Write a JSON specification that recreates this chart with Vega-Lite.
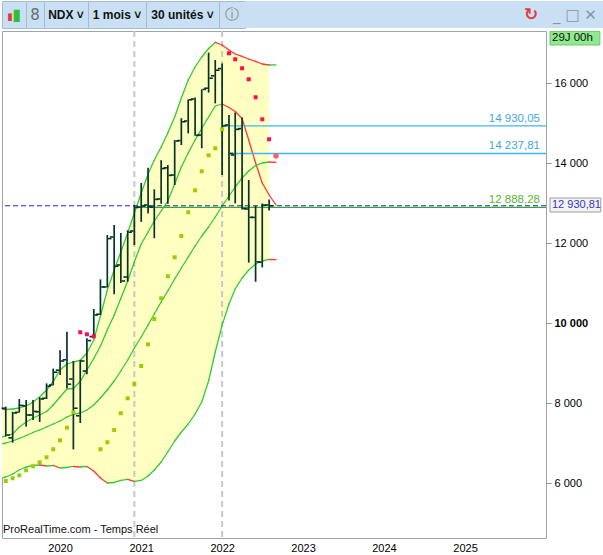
{
  "$schema": "https://vega.github.io/schema/vega-lite/v6.json",
  "description": "NDX monthly bars with bands, SAR dots and price levels, ProRealTime style",
  "padding": 0,
  "background": "white",
  "spacing": 0,
  "config": {
    "font": "Liberation Sans",
    "text": {"font": "Liberation Sans"},
    "axis": {"labelFont": "Liberation Sans"}
  },
  "datasets": {
    "bars": [
      {"date": "2019-05-01", "open": 7870, "high": 7910, "low": 7170, "close": 7200},
      {"date": "2019-06-01", "open": 7130, "high": 7780, "low": 7010, "close": 7750},
      {"date": "2019-07-01", "open": 7770, "high": 8100, "low": 7760, "close": 7940},
      {"date": "2019-08-01", "open": 7930, "high": 8075, "low": 7410, "close": 7700},
      {"date": "2019-09-01", "open": 7700, "high": 8075, "low": 7575, "close": 7790},
      {"date": "2019-10-01", "open": 7780, "high": 8140, "low": 7525, "close": 8100},
      {"date": "2019-11-01", "open": 8120, "high": 8490, "low": 8100, "close": 8420},
      {"date": "2019-12-01", "open": 8450, "high": 8860, "low": 8440, "close": 8770},
      {"date": "2020-01-01", "open": 8820, "high": 9320, "low": 8700, "close": 9050},
      {"date": "2020-02-01", "open": 9080, "high": 9780, "low": 8370, "close": 8470},
      {"date": "2020-03-01", "open": 8600, "high": 9050, "low": 6840, "close": 7870},
      {"date": "2020-04-01", "open": 7680, "high": 9080, "low": 7500, "close": 9050},
      {"date": "2020-05-01", "open": 8800, "high": 9620, "low": 8720, "close": 9560},
      {"date": "2020-06-01", "open": 9660, "high": 10350, "low": 9620, "close": 10200},
      {"date": "2020-07-01", "open": 10220, "high": 11090, "low": 10200, "close": 10900},
      {"date": "2020-08-01", "open": 10900, "high": 12200, "low": 10890, "close": 12110},
      {"date": "2020-09-01", "open": 12150, "high": 12450, "low": 10720, "close": 11420},
      {"date": "2020-10-01", "open": 11450, "high": 12250, "low": 11000, "close": 11050},
      {"date": "2020-11-01", "open": 11150, "high": 12320, "low": 11030, "close": 12270},
      {"date": "2020-12-01", "open": 12300, "high": 12950, "low": 11950, "close": 12888.28},
      {"date": "2021-01-01", "open": 12900, "high": 13500, "low": 12530, "close": 12925},
      {"date": "2021-02-01", "open": 12950, "high": 13880, "low": 12740, "close": 12910},
      {"date": "2021-03-01", "open": 12900, "high": 13340, "low": 12120, "close": 13090},
      {"date": "2021-04-01", "open": 13100, "high": 14070, "low": 12980, "close": 13860},
      {"date": "2021-05-01", "open": 13880, "high": 13950, "low": 12980, "close": 13690},
      {"date": "2021-06-01", "open": 13700, "high": 14570, "low": 13450, "close": 14550},
      {"date": "2021-07-01", "open": 14560, "high": 15120, "low": 14450, "close": 15030},
      {"date": "2021-08-01", "open": 15050, "high": 15590, "low": 14740, "close": 15580},
      {"date": "2021-09-01", "open": 15600, "high": 15640, "low": 14680, "close": 14690},
      {"date": "2021-10-01", "open": 14700, "high": 15840, "low": 14370, "close": 15840},
      {"date": "2021-11-01", "open": 15870, "high": 16760, "low": 15760, "close": 16120},
      {"date": "2021-12-01", "open": 16180, "high": 16575, "low": 15490, "close": 16320},
      {"date": "2022-01-01", "open": 16360, "high": 16490, "low": 13700, "close": 14930.05},
      {"date": "2022-02-01", "open": 14950, "high": 15200, "low": 13060, "close": 14237.81},
      {"date": "2022-03-01", "open": 14200, "high": 15260, "low": 12990, "close": 14840},
      {"date": "2022-04-01", "open": 14860, "high": 15140, "low": 12840, "close": 12860},
      {"date": "2022-05-01", "open": 12850, "high": 13575, "low": 11510, "close": 12642},
      {"date": "2022-06-01", "open": 12640, "high": 12925, "low": 11030, "close": 11530},
      {"date": "2022-07-01", "open": 11520, "high": 12990, "low": 11390, "close": 12948},
      {"date": "2022-08-01", "open": 12950, "high": 13090, "low": 12810, "close": 12930.81}
    ],
    "bands": [
      {"date": "2019-04-01", "up": 7850, "m2": 7138, "ma": 6963, "low": 6113},
      {"date": "2019-05-01", "up": 7838, "m2": 7175, "ma": 7000, "low": 6150},
      {"date": "2019-06-01", "up": 7850, "m2": 7225, "ma": 7050, "low": 6225},
      {"date": "2019-07-01", "up": 7875, "m2": 7400, "ma": 7113, "low": 6325},
      {"date": "2019-08-01", "up": 7925, "m2": 7525, "ma": 7188, "low": 6400},
      {"date": "2019-09-01", "up": 8025, "m2": 7625, "ma": 7263, "low": 6438},
      {"date": "2019-10-01", "up": 8150, "m2": 7700, "ma": 7325, "low": 6450},
      {"date": "2019-11-01", "up": 8325, "m2": 7788, "ma": 7400, "low": 6425},
      {"date": "2019-12-01", "up": 8538, "m2": 7950, "ma": 7475, "low": 6438},
      {"date": "2020-01-01", "up": 8825, "m2": 8150, "ma": 7550, "low": 6375},
      {"date": "2020-02-01", "up": 8975, "m2": 8350, "ma": 7650, "low": 6388},
      {"date": "2020-03-01", "up": 9025, "m2": 8363, "ma": 7713, "low": 6413},
      {"date": "2020-04-01", "up": 9063, "m2": 8538, "ma": 7750, "low": 6400},
      {"date": "2020-05-01", "up": 9250, "m2": 8825, "ma": 7825, "low": 6413},
      {"date": "2020-06-01", "up": 9575, "m2": 9113, "ma": 7950, "low": 6300},
      {"date": "2020-07-01", "up": 10175, "m2": 9425, "ma": 8125, "low": 6125},
      {"date": "2020-08-01", "up": 10825, "m2": 9825, "ma": 8325, "low": 6000},
      {"date": "2020-09-01", "up": 11325, "m2": 10200, "ma": 8550, "low": 6013},
      {"date": "2020-10-01", "up": 11775, "m2": 10613, "ma": 8800, "low": 6063},
      {"date": "2020-11-01", "up": 12250, "m2": 11050, "ma": 9075, "low": 6088},
      {"date": "2020-12-01", "up": 12750, "m2": 11525, "ma": 9375, "low": 6038},
      {"date": "2021-01-01", "up": 13250, "m2": 11975, "ma": 9650, "low": 6063},
      {"date": "2021-02-01", "up": 13725, "m2": 12275, "ma": 9950, "low": 6175},
      {"date": "2021-03-01", "up": 14075, "m2": 12550, "ma": 10225, "low": 6325},
      {"date": "2021-04-01", "up": 14400, "m2": 12800, "ma": 10525, "low": 6525},
      {"date": "2021-05-01", "up": 14750, "m2": 13050, "ma": 10800, "low": 6775},
      {"date": "2021-06-01", "up": 15150, "m2": 13475, "ma": 11100, "low": 7050},
      {"date": "2021-07-01", "up": 15625, "m2": 13900, "ma": 11375, "low": 7275},
      {"date": "2021-08-01", "up": 16075, "m2": 14250, "ma": 11650, "low": 7475},
      {"date": "2021-09-01", "up": 16400, "m2": 14575, "ma": 11925, "low": 7725},
      {"date": "2021-10-01", "up": 16650, "m2": 14863, "ma": 12175, "low": 8025},
      {"date": "2021-11-01", "up": 16863, "m2": 15150, "ma": 12400, "low": 8550},
      {"date": "2021-12-01", "up": 17013, "m2": 15425, "ma": 12650, "low": 9275},
      {"date": "2022-01-01", "up": 16950, "m2": 15475, "ma": 12925, "low": 9950},
      {"date": "2022-02-01", "up": 16825, "m2": 15388, "ma": 13175, "low": 10475},
      {"date": "2022-03-01", "up": 16725, "m2": 15288, "ma": 13400, "low": 10850},
      {"date": "2022-04-01", "up": 16663, "m2": 15113, "ma": 13625, "low": 11125},
      {"date": "2022-05-01", "up": 16600, "m2": 14575, "ma": 13800, "low": 11325},
      {"date": "2022-06-01", "up": 16538, "m2": 14000, "ma": 13938, "low": 11475},
      {"date": "2022-07-01", "up": 16475, "m2": 13500, "ma": 14000, "low": 11550},
      {"date": "2022-08-01", "up": 16450, "m2": 13200, "ma": 14025, "low": 11588},
      {"date": "2022-09-01", "up": 16455, "m2": 12950, "ma": 14018, "low": 11583, "proj": true}
    ],
    "sar": [
      {"date": "2019-05-01", "sar": 6050, "side": "below"},
      {"date": "2019-06-01", "sar": 6118, "side": "below"},
      {"date": "2019-07-01", "sar": 6193, "side": "below"},
      {"date": "2019-08-01", "sar": 6318, "side": "below"},
      {"date": "2019-09-01", "sar": 6418, "side": "below"},
      {"date": "2019-10-01", "sar": 6518, "side": "below"},
      {"date": "2019-11-01", "sar": 6643, "side": "below"},
      {"date": "2019-12-01", "sar": 6843, "side": "below"},
      {"date": "2020-01-01", "sar": 7068, "side": "below"},
      {"date": "2020-02-01", "sar": 7383, "side": "below"},
      {"date": "2020-03-01", "sar": 7768, "side": "below"},
      {"date": "2020-04-01", "sar": 9768, "side": "above"},
      {"date": "2020-05-01", "sar": 9718, "side": "above"},
      {"date": "2020-06-01", "sar": 9668, "side": "above"},
      {"date": "2020-07-01", "sar": 6843, "side": "below"},
      {"date": "2020-08-01", "sar": 7018, "side": "below"},
      {"date": "2020-09-01", "sar": 7325, "side": "below"},
      {"date": "2020-10-01", "sar": 7743, "side": "below"},
      {"date": "2020-11-01", "sar": 8118, "side": "below"},
      {"date": "2020-12-01", "sar": 8475, "side": "below"},
      {"date": "2021-01-01", "sar": 8925, "side": "below"},
      {"date": "2021-02-01", "sar": 9468, "side": "below"},
      {"date": "2021-03-01", "sar": 10100, "side": "below"},
      {"date": "2021-04-01", "sar": 10618, "side": "below"},
      {"date": "2021-05-01", "sar": 11168, "side": "below"},
      {"date": "2021-06-01", "sar": 11643, "side": "below"},
      {"date": "2021-07-01", "sar": 12175, "side": "below"},
      {"date": "2021-08-01", "sar": 12768, "side": "below"},
      {"date": "2021-09-01", "sar": 13318, "side": "below"},
      {"date": "2021-10-01", "sar": 13793, "side": "below"},
      {"date": "2021-11-01", "sar": 14193, "side": "below"},
      {"date": "2021-12-01", "sar": 14368, "side": "below"},
      {"date": "2022-01-01", "sar": 14843, "side": "below"},
      {"date": "2022-02-01", "sar": 16743, "side": "above"},
      {"date": "2022-03-01", "sar": 16593, "side": "above"},
      {"date": "2022-04-01", "sar": 16368, "side": "above"},
      {"date": "2022-05-01", "sar": 16093, "side": "above"},
      {"date": "2022-06-01", "sar": 15643, "side": "above"},
      {"date": "2022-07-01", "sar": 15093, "side": "above"},
      {"date": "2022-08-01", "sar": 14593, "side": "above"},
      {"date": "2022-09-01", "sar": 14175, "side": "next"}
    ],
    "levels": [
      {"date": "2022-01-01", "level": 14930.05, "label": "14 930,05", "kind": "blue"},
      {"date": "2022-02-01", "level": 14237.81, "label": "14 237,81", "kind": "blue"},
      {"date": "2020-12-01", "level": 12888.28, "label": "12 888,28", "kind": "green"}
    ]
  },
  "vconcat": [
    {
      "spacing": 0,
      "bounds": "flush",
      "hconcat": [
        {
          "width": 24, "height": 27,
          "view": {"fill": "#c9e0f4", "stroke": "#a3bcd2"},
          "data": {"values": [{"t": "▮"}]},
          "layer": [
            {"mark": {"type": "text", "font": "DejaVu Sans", "fontSize": 10, "color": "#e03a3a", "dx": -4, "dy": 2}, "encoding": {"text": {"field": "t"}}},
            {"mark": {"type": "text", "font": "DejaVu Sans", "fontSize": 16, "color": "#2fbf2f", "dx": 3}, "encoding": {"text": {"field": "t"}}}
          ]
        },
        {
          "width": 18, "height": 27,
          "view": {"fill": "#c9e0f4", "stroke": "#a3bcd2"},
          "data": {"values": [{"t": "8"}]},
          "mark": {"type": "text", "font": "DejaVu Sans", "fontSize": 15, "color": "#6a6a6a"},
          "encoding": {"text": {"field": "t"}}
        },
        {
          "width": 44, "height": 27,
          "view": {"fill": "#c9e0f4", "stroke": "#a3bcd2"},
          "data": {"values": [{"t": "NDX ˅"}]},
          "mark": {"type": "text", "fontSize": 12, "fontWeight": "bold", "color": "#111111"},
          "encoding": {"text": {"field": "t"}}
        },
        {
          "width": 58, "height": 27,
          "view": {"fill": "#c9e0f4", "stroke": "#a3bcd2"},
          "data": {"values": [{"t": "1 mois ˅"}]},
          "mark": {"type": "text", "fontSize": 12, "fontWeight": "bold", "color": "#111111"},
          "encoding": {"text": {"field": "t"}}
        },
        {
          "width": 73, "height": 27,
          "view": {"fill": "#c9e0f4", "stroke": "#a3bcd2"},
          "data": {"values": [{"t": "30 unités ˅"}]},
          "mark": {"type": "text", "fontSize": 12, "fontWeight": "bold", "color": "#111111"},
          "encoding": {"text": {"field": "t"}}
        },
        {
          "width": 26, "height": 27,
          "view": {"fill": "#c9e0f4", "stroke": "#a3bcd2"},
          "data": {"values": [{"t": "ⓘ"}]},
          "mark": {"type": "text", "font": "DejaVu Sans", "fontSize": 14, "color": "#7a7a7a"},
          "encoding": {"text": {"field": "t"}}
        },
        {
          "width": 272, "height": 27,
          "view": {"fill": "#c9e0f4", "stroke": null},
          "data": {"values": [{"t": ""}]},
          "mark": {"type": "text"},
          "encoding": {"text": {"field": "t"}}
        },
        {
          "width": 28, "height": 27,
          "view": {"fill": "#c9e0f4", "stroke": null},
          "data": {"values": [{"t": "↻"}]},
          "mark": {"type": "text", "font": "DejaVu Sans", "fontSize": 17, "fontWeight": "bold", "color": "#e03c3c"},
          "encoding": {"text": {"field": "t"}}
        },
        {
          "width": 60, "height": 27,
          "view": {"fill": "#c9e0f4", "stroke": null},
          "data": {"values": [{"t": "_  □  ✕"}]},
          "mark": {"type": "text", "font": "DejaVu Sans", "fontSize": 15, "color": "#8795a3"},
          "encoding": {"text": {"field": "t"}}
        }
      ]
    },
    {
      "width": 544,
      "height": 507,
      "view": {"stroke": "#9aa4ae", "fill": "white"},
      "layer": [
        {
          "data": {"name": "bands", "format": {"parse": {"date": "date"}}},
          "transform": [{"filter": "!datum.proj"}],
          "mark": {"type": "area", "color": "#ffffc2", "clip": true},
          "encoding": {
            "x": {
              "field": "date", "type": "temporal", "title": null,
              "scale": {"domain": [{"year": 2019, "month": 4, "date": 14}, {"year": 2026, "month": 1, "date": 1}], "nice": false},
              "axis": {
                "title": null, "grid": false, "ticks": false, "domain": false,
                "values": [{"year": 2020}, {"year": 2021}, {"year": 2022}, {"year": 2023}, {"year": 2024}, {"year": 2025}],
                "format": "%Y", "labelFontSize": 11, "labelColor": "#000000", "labelPadding": 4
              }
            },
            "y": {
              "field": "up", "type": "quantitative", "title": null,
              "scale": {"domain": [4625, 17300], "nice": false, "zero": false},
              "axis": {
                "orient": "right", "title": null, "grid": false, "domain": false,
                "values": [6000, 8000, 10000, 12000, 14000, 16000],
                "labelExpr": "replace(format(datum.value, ','), ',', ' ')",
                "tickSize": 5, "tickColor": "#8a949e", "labelPadding": 3,
                "labelFontSize": 11, "labelColor": "#000000",
                "labelFontWeight": {"condition": {"test": "datum.value === 10000", "value": "bold"}, "value": "normal"}
              }
            },
            "y2": {"field": "low"}
          }
        },
        {
          "data": {"values": [{"date": "2020-12-01"}, {"date": "2022-01-01"}]},
          "mark": {"type": "rule", "color": "#c8c8c8", "strokeWidth": 2, "strokeDash": [6, 4]},
          "encoding": {"x": {"field": "date", "type": "temporal", "title": null}}
        },
        {
          "data": {"name": "bands", "format": {"parse": {"date": "date"}}},
          "transform": [
            {"fold": ["up", "m2", "ma", "low"], "as": ["curve", "value"]},
            {
              "window": [{"op": "lead", "field": "value", "as": "v2"}, {"op": "lead", "field": "date", "as": "d2"}],
              "groupby": ["curve"],
              "sort": [{"field": "date", "order": "ascending"}]
            },
            {"filter": "datum.v2 != null"}
          ],
          "mark": {"type": "rule", "strokeWidth": 1.3, "strokeCap": "round", "clip": true},
          "encoding": {
            "x": {"field": "date", "type": "temporal", "title": null},
            "x2": {"field": "d2"},
            "y": {"field": "value", "type": "quantitative", "title": null},
            "y2": {"field": "v2"},
            "color": {"condition": {"test": "datum.v2 < datum.value", "value": "#ff3838"}, "value": "#35c935"}
          }
        },
        {
          "data": {"name": "levels", "format": {"parse": {"date": "date"}}},
          "mark": {"type": "rule", "strokeWidth": 1.3},
          "encoding": {
            "x": {"field": "date", "type": "temporal", "title": null},
            "x2": {"datum": {"year": 2026, "month": 1, "date": 1}},
            "y": {"field": "level", "type": "quantitative", "title": null},
            "color": {"condition": {"test": "datum.kind === 'green'", "value": "#38a838"}, "value": "#3cb6f2"}
          }
        },
        {
          "data": {"values": [{}]},
          "mark": {"type": "rule", "color": "#2424d8", "strokeDash": [5, 3], "strokeWidth": 1.2},
          "encoding": {"y": {"datum": 12930.81, "type": "quantitative", "title": null}}
        },
        {
          "data": {"name": "bars", "format": {"parse": {"date": "date"}}},
          "mark": {"type": "rule", "color": "#04332b", "strokeWidth": 1.7},
          "encoding": {
            "x": {"field": "date", "type": "temporal", "title": null},
            "y": {"field": "low", "type": "quantitative", "title": null},
            "y2": {"field": "high"}
          }
        },
        {
          "data": {"name": "bars", "format": {"parse": {"date": "date"}}},
          "mark": {"type": "tick", "orient": "horizontal", "size": 3.5, "thickness": 1.6, "xOffset": -2.5, "color": "#04332b", "opacity": 1},
          "encoding": {
            "x": {"field": "date", "type": "temporal", "title": null},
            "y": {"field": "open", "type": "quantitative", "title": null}
          }
        },
        {
          "data": {"name": "bars", "format": {"parse": {"date": "date"}}},
          "mark": {"type": "tick", "orient": "horizontal", "size": 3.5, "thickness": 1.6, "xOffset": 2.5, "color": "#04332b", "opacity": 1},
          "encoding": {
            "x": {"field": "date", "type": "temporal", "title": null},
            "y": {"field": "close", "type": "quantitative", "title": null}
          }
        },
        {
          "data": {"name": "sar", "format": {"parse": {"date": "date"}}},
          "transform": [{"filter": "datum.side !== 'next'"}],
          "mark": {"type": "square", "size": 16, "filled": true, "opacity": 1},
          "encoding": {
            "x": {"field": "date", "type": "temporal", "title": null},
            "y": {"field": "sar", "type": "quantitative", "title": null},
            "color": {"condition": {"test": "datum.side === 'above'", "value": "#ff0a54"}, "value": "#9fcc00"}
          }
        },
        {
          "data": {"name": "sar", "format": {"parse": {"date": "date"}}},
          "transform": [{"filter": "datum.side === 'next'"}],
          "mark": {"type": "circle", "size": 30, "color": "#f86262", "opacity": 1},
          "encoding": {
            "x": {"field": "date", "type": "temporal", "title": null},
            "y": {"field": "sar", "type": "quantitative", "title": null}
          }
        },
        {
          "data": {"name": "levels"},
          "mark": {"type": "text", "align": "right", "baseline": "bottom", "dx": -6, "dy": -2, "fontSize": 11.5},
          "encoding": {
            "x": {"datum": {"year": 2026, "month": 1, "date": 1}, "type": "temporal", "title": null},
            "y": {"field": "level", "type": "quantitative", "title": null},
            "text": {"field": "label"},
            "color": {"condition": {"test": "datum.kind === 'green'", "value": "#55b82a"}, "value": "#3ea8e4"}
          }
        },
        {
          "data": {"values": [{"t": "ProRealTime.com - Temps Réel"}]},
          "mark": {"type": "text", "align": "left", "baseline": "middle", "dx": 1, "fontSize": 11, "color": "#111111"},
          "encoding": {
            "x": {"datum": {"year": 2019, "month": 4, "date": 14}, "type": "temporal", "title": null},
            "y": {"datum": 4830, "type": "quantitative", "title": null},
            "text": {"field": "t"}
          }
        },
        {
          "data": {"values": [{}]},
          "mark": {"type": "rect", "fill": "#f3f3f3", "stroke": "#9c9c9c", "strokeWidth": 1},
          "encoding": {
            "x": {"datum": {"year": 2026, "month": 1, "date": 19}, "type": "temporal", "title": null},
            "x2": {"datum": {"year": 2026, "month": 9, "date": 5}},
            "y": {"datum": 13125, "type": "quantitative", "title": null},
            "y2": {"datum": 12775}
          }
        },
        {
          "data": {"values": [{"t": "12 930,81"}]},
          "mark": {"type": "text", "align": "left", "baseline": "middle", "dx": 2, "fontSize": 11, "color": "#3434c8"},
          "encoding": {
            "x": {"datum": {"year": 2026, "month": 1, "date": 19}, "type": "temporal", "title": null},
            "y": {"datum": 12950, "type": "quantitative", "title": null},
            "text": {"field": "t"}
          }
        },
        {
          "data": {"values": [{}]},
          "mark": {"type": "rect", "fill": "#8fe98f", "stroke": "#70c470", "strokeWidth": 1},
          "encoding": {
            "x": {"datum": {"year": 2026, "month": 1, "date": 19}, "type": "temporal", "title": null},
            "x2": {"datum": {"year": 2026, "month": 9, "date": 1}},
            "y": {"datum": 17290, "type": "quantitative", "title": null},
            "y2": {"datum": 16950}
          }
        },
        {
          "data": {"values": [{"t": "29J 00h"}]},
          "mark": {"type": "text", "align": "left", "baseline": "middle", "dx": 2, "fontSize": 11.5, "color": "#111111"},
          "encoding": {
            "x": {"datum": {"year": 2026, "month": 1, "date": 19}, "type": "temporal", "title": null},
            "y": {"datum": 17120, "type": "quantitative", "title": null},
            "text": {"field": "t"}
          }
        }
      ]
    }
  ]
}
